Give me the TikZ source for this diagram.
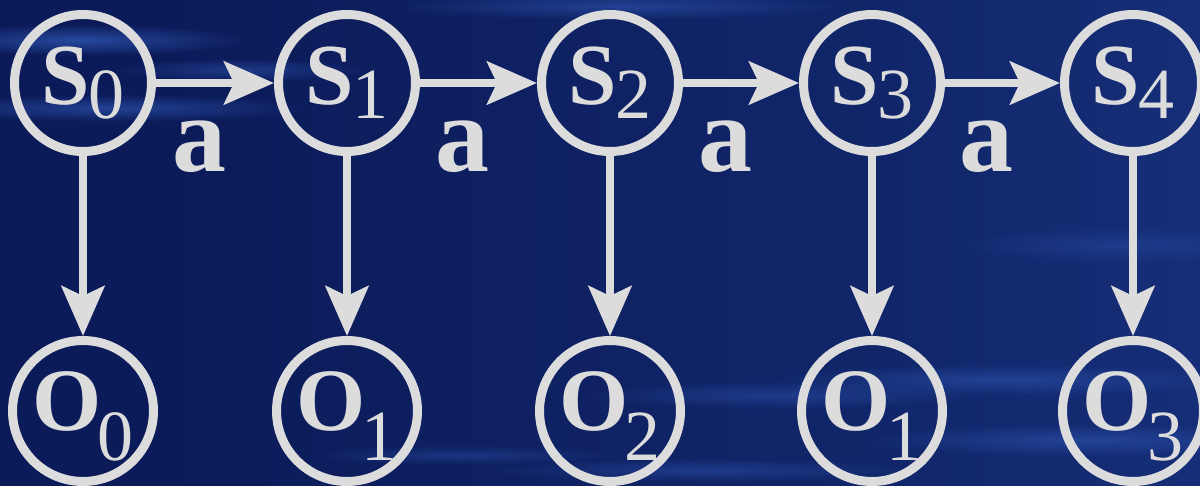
\documentclass[tikz,border=0pt]{standalone}
\usepackage{fontspec}
\setmainfont{Liberation Serif}
\usetikzlibrary{arrows.meta,fadings}

\definecolor{ink}{RGB}{220,220,220}
\definecolor{bgA}{RGB}{11,26,88}
\definecolor{bgB}{RGB}{17,38,106}
\definecolor{bgC}{RGB}{32,62,146}
\definecolor{streak}{RGB}{58,105,205}

% left-to-right backdrop: deep navy brightening towards the right
\pgfdeclarehorizontalshading{backdrop}{100bp}{color(0bp)=(bgA); color(30bp)=(bgA); color(62bp)=(bgB); color(100bp)=(bgC)}
% radial fade from opaque centre to clear rim
\tikzfading[name=softglow, inner color=transparent!0, outer color=transparent!100]

% state label: bold letter with a large, lowered plain subscript
\newcommand\stlab[2]{{\fontsize{87}{90}\selectfont\bfseries #1}\kern-1pt\raisebox{-14pt}{\fontsize{72}{75}\selectfont #2}}
% observation label: subscript sits lower, close beside the O
\newcommand\oblab[2]{\rule{0pt}{69pt}{\fontsize{89}{92}\selectfont\bfseries #1}\kern-5pt\raisebox{-30pt}{\fontsize{72}{75}\selectfont #2}}

\begin{document}
\begin{tikzpicture}[x=1pt,y=-1pt,
  state/.style={circle, draw=ink, line width=9pt, minimum size=137pt,
                inner sep=0pt, text=ink},
  flow/.style={draw=ink, line width=8pt,
               -{Stealth[length=50pt,width=43pt,inset=10pt]}},
  lbl/.style={text=ink, inner sep=0pt,
              font=\fontsize{108}{110}\selectfont\bfseries},
  glow/.style={fill=streak, path fading=softglow},
]
% backdrop
\useasboundingbox (0,0) rectangle (1200,485);
\shade[shading=backdrop] (0,0) rectangle (1200,485);
% soft light streaks
\fill[glow, opacity=0.60] (80,40) ellipse [x radius=170, y radius=16];
\fill[glow, opacity=0.50] (110,108) ellipse [x radius=200, y radius=14];
\fill[glow, opacity=0.40] (240,70) ellipse [x radius=130, y radius=12];
\fill[glow, opacity=0.45] (620,6) ellipse [x radius=230, y radius=14];
\fill[glow, opacity=0.25] (1120,245) ellipse [x radius=170, y radius=18];
\fill[glow, opacity=0.35] (780,395) ellipse [x radius=200, y radius=14];
\fill[glow, opacity=0.40] (1000,380) ellipse [x radius=240, y radius=16];
\fill[glow, opacity=0.40] (1080,440) ellipse [x radius=220, y radius=16];
\fill[glow, opacity=0.35] (700,470) ellipse [x radius=220, y radius=12];
\fill[glow, opacity=0.30] (460,455) ellipse [x radius=160, y radius=10];

% hidden states
\node[state] (s0) at (83,83)   {\stlab{S}{0}};
\node[state] (s1) at (347,83)  {\stlab{S}{1}};
\node[state] (s2) at (610,83)  {\stlab{S}{2}};
\node[state] (s3) at (872,83)  {\stlab{S}{3}};
\node[state] (s4) at (1133,83) {\stlab{S}{4}};

% observations
\node[state] (o0) at (83,411)   {\oblab{O}{0}};
\node[state] (o1) at (347,411)  {\oblab{O}{1}};
\node[state] (o2) at (610,411)  {\oblab{O}{2}};
\node[state] (o3) at (872,411)  {\oblab{O}{1}};
\node[state] (o4) at (1133,411) {\oblab{O}{3}};

% transitions under action a
\draw[flow] (s0) -- node[lbl, xshift=-16pt, yshift=-64pt] {a} (s1);
\draw[flow] (s1) -- node[lbl, xshift=-16pt, yshift=-64pt] {a} (s2);
\draw[flow] (s2) -- node[lbl, xshift=-16pt, yshift=-64pt] {a} (s3);
\draw[flow] (s3) -- node[lbl, xshift=-16pt, yshift=-64pt] {a} (s4);

% emissions
\draw[flow] (s0) -- (o0);
\draw[flow] (s1) -- (o1);
\draw[flow] (s2) -- (o2);
\draw[flow] (s3) -- (o3);
\draw[flow] (s4) -- (o4);
\end{tikzpicture}
\end{document}
